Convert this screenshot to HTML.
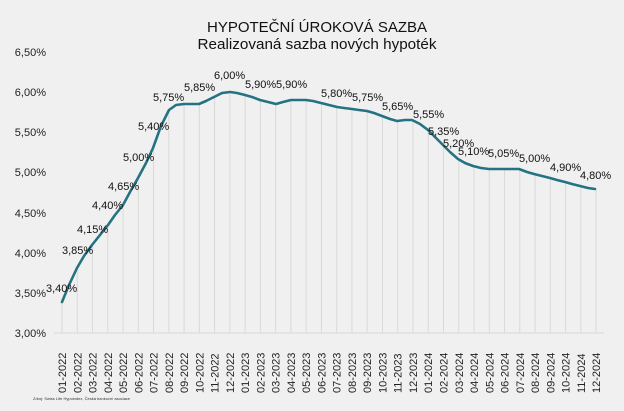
<!DOCTYPE html>
<html><head><meta charset="utf-8"><style>
html,body{margin:0;padding:0;background:#f0f0f0;}
svg{display:block;font-family:"Liberation Sans",Arial,sans-serif;}
</style></head><body>
<svg width="624" height="411" viewBox="0 0 624 411" xmlns="http://www.w3.org/2000/svg">
<rect width="624" height="411" fill="#f0f0f0"/>
<text x="317" y="32" font-size="15" text-anchor="middle" fill="#111" textLength="220" lengthAdjust="spacingAndGlyphs">HYPOTEČNÍ ÚROKOVÁ SAZBA</text>
<text x="317" y="49" font-size="14.5" text-anchor="middle" fill="#111" textLength="239" lengthAdjust="spacingAndGlyphs">Realizovaná sazba nových hypoték</text>
<g stroke="#d9d9d9" stroke-width="1" id="grid"></g>
<g font-size="11" fill="#222" text-anchor="end">
<text x="46" y="56">6,50%</text><text x="46" y="96">6,00%</text><text x="46" y="136">5,50%</text><text x="46" y="176">5,00%</text><text x="46" y="217">4,50%</text><text x="46" y="257">4,00%</text><text x="46" y="297">3,50%</text><text x="46" y="337">3,00%</text>
</g>
<line x1="54" y1="333" x2="604" y2="333" stroke="#d9d9d9"/>
<g id="xl" font-size="11" fill="#222"></g>
<polyline fill="none" stroke="#247383" stroke-width="2.6" stroke-linejoin="round" stroke-linecap="round" points="62,302 69,285 77,268 84,256 92,245 100,235 108,225 115,215 123,205 130,192 138,178 146,163 153,148 161,126 169,110 176,105 184,104 191,104 199,104 206,101 214,97 222,93 230,92 237,93 245,95 252,97 260,100 268,102 276,104 283,102 291,100 298,100 306,100 313,101 321,103 329,105 337,107 344,108 352,109 359,110 367,111 374,113 382,116 390,119 397,121 405,120 412,120 420,124 428,130 435,137 443,145 450,152 458,159 465,163 473,166 481,168 489,169 496,169 504,169 511,169 519,169 527,172 534,174 542,176 550,178 557,180 565,182 572,184 580,186 588,188 595,189"/>
<g font-size="11" fill="#111">
<text x="46" y="292">3,40%</text><text x="62" y="254">3,85%</text><text x="77" y="233">4,15%</text><text x="92" y="209">4,40%</text><text x="108" y="190">4,65%</text><text x="123" y="161">5,00%</text><text x="138" y="130">5,40%</text><text x="153" y="101">5,75%</text><text x="184" y="91">5,85%</text><text x="214" y="79">6,00%</text><text x="245" y="88">5,90%</text><text x="276" y="88">5,90%</text><text x="321" y="97">5,80%</text><text x="352" y="101">5,75%</text><text x="382" y="110">5,65%</text><text x="413" y="118">5,55%</text><text x="428" y="135">5,35%</text><text x="443" y="147">5,20%</text><text x="458" y="155">5,10%</text><text x="488" y="157">5,05%</text><text x="519" y="162">5,00%</text><text x="550" y="171">4,90%</text><text x="580" y="179">4,80%</text>
</g>
<text x="33" y="400" font-size="4" fill="#333">Zdroj: Swiss Life Hypoindex, Česká bankovní asociace</text>
<script>
var ys=[302,268,245,225,205,178,148,110,104,104,97,92,95,100,104,100,100,103,107,109,111,116,121,120,130,145,159,166,169,169,169,174,178,182,186,189];
var g=document.getElementById('grid'),xl=document.getElementById('xl'),ns='http://www.w3.org/2000/svg';
for(var i=0;i<36;i++){var x=62+i*15.26;var l=document.createElementNS(ns,'line');l.setAttribute('x1',x);l.setAttribute('x2',x);l.setAttribute('y1',ys[i]);l.setAttribute('y2',333);g.appendChild(l);
var m=(i%12)+1,y=2022+Math.floor(i/12);var t=document.createElementNS(ns,'text');t.setAttribute('transform','translate('+(x+4)+',393) rotate(-90)');t.textContent=(m<10?'0':'')+m+'-'+y;xl.appendChild(t);}
</script>
</svg>
</body></html>
